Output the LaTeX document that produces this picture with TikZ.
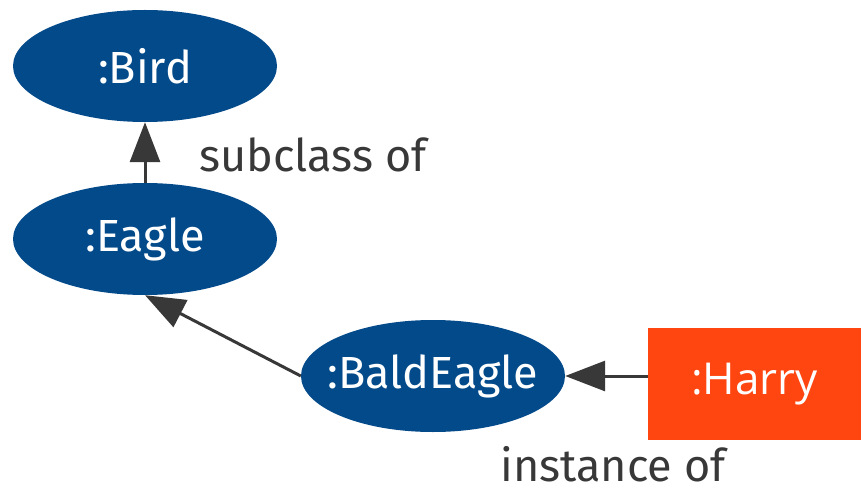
\documentclass[tikz,border=0pt]{standalone}
\usepackage{fontspec}
\setmainfont{Fira Sans}
\newfontfamily\harryfont{Open Sans}
\usetikzlibrary{arrows.meta,shapes.geometric}
\definecolor{classblue}{HTML}{034A8A}
\definecolor{instred}{HTML}{FF4510}
\definecolor{inkgray}{HTML}{383838}
\tikzstyle{cls}=[ellipse, fill=classblue, text=white, inner ysep=0pt, inner xsep=-18pt,
  minimum width=264pt, minimum height=112pt, font=\fontsize{45}{52}\selectfont]
\tikzstyle{inst}=[rectangle, fill=instred, text=white, inner sep=0pt,
  minimum width=213pt, minimum height=112pt, font=\harryfont\fontsize{44}{52}\selectfont]
\tikzstyle{rel}=[text=inkgray, font=\fontsize{45}{52}\selectfont]
\newcommand{\cls}{\node[cls]}

\begin{document}
\begin{tikzpicture}[x=1pt, y=-1pt
  ,every edge/.style={draw, draw=inkgray, line width=3pt, -{Triangle[length=40pt,width=30pt]}}
]
\useasboundingbox (0,0) rectangle (861,494);
\cls (bird) at (145,66) {:Bird};
\cls (eagle) at (145,239) {:Eagle};
\cls (bald) at (433,376) {:BaldEagle};
\node[inst] (harry) at (754.5,384) {:Harry};
\node[rel] (sub) at (313,155) {subclass of};
\node[rel] (ins) at (613,464) {instance of};
\path
(eagle) edge (bird)
(bald.west) edge (eagle.south)
(harry.west |- bald) edge (bald)
;
\end{tikzpicture}
\end{document}
